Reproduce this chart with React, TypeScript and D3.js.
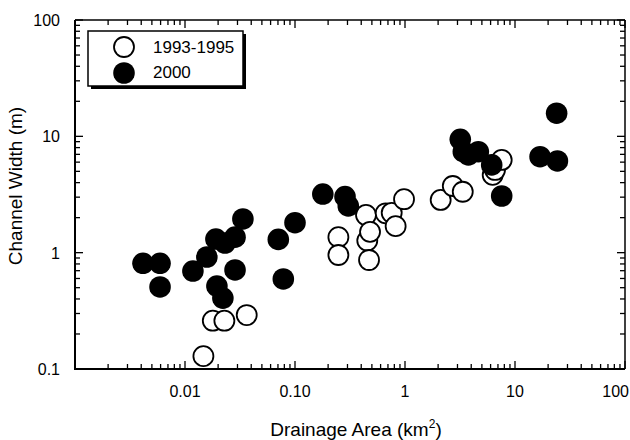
import React from "react";
import * as d3 from "d3";

const openArea = [0.0147, 0.0179, 0.0228, 0.0364, 0.248, 0.248, 0.442, 0.454, 0.471, 0.481, 0.668, 0.757, 0.822, 0.98, 2.11, 2.72, 3.35, 6.27, 6.58, 7.57];
const openWidth = [0.129, 0.26, 0.26, 0.291, 1.36, 0.955, 2.11, 1.27, 0.865, 1.51, 2.18, 2.2, 1.69, 2.88, 2.84, 3.74, 3.34, 4.66, 5.14, 6.27];

const filledArea = [0.00415, 0.00593, 0.00593, 0.0118, 0.0158, 0.0191, 0.0195, 0.0221, 0.0231, 0.0285, 0.0285, 0.0336, 0.0705, 0.0783, 0.1, 0.179, 0.285, 0.305, 3.18, 3.39, 3.77, 4.64, 6.14, 7.57, 16.9, 23.9, 24.3];
const filledWidth = [0.81, 0.81, 0.507, 0.695, 0.918, 1.31, 0.516, 0.407, 1.21, 1.36, 0.71, 1.95, 1.3, 0.594, 1.81, 3.19, 3.03, 2.52, 9.42, 7.38, 6.92, 7.38, 5.68, 3.07, 6.68, 15.8, 6.14];

const xTickValues = [0.01, 0.1, 1, 10, 100];
const xTickLabels = ["0.01", "0.10", "1", "10", "100"];
const yTickValues = [0.1, 1, 10, 100];
const yTickLabels = ["0.1", "1", "10", "100"];

const seriesNames = ["1993-1995", "2000"];

const W = 630;
const H = 440;
const left = 75, right = 625, top = 20, bottom = 369;
const FONT = "'Liberation Sans', Arial, Helvetica, sans-serif";

export default function App() {
  const x = d3.scaleLog().domain([0.001, 100]).range([left, right]);
  const y = d3.scaleLog().domain([0.1, 100]).range([bottom, top]);
  const isMajor = (v: number) => Math.abs(Math.log10(v) - Math.round(Math.log10(v))) < 1e-9;
  const xt = x.ticks();
  const yt = y.ticks();
  const r = 10;
  const major = 8, minor = 5;

  return (
    <svg width={W} height={H} style={{ position: "absolute", left: 0, top: 0, background: "#fff" }} fontFamily={FONT}>
      <rect x={0} y={0} width={W} height={H} fill="#fff" />
      {/* frame */}
      <line x1={left} x2={right} y1={top} y2={top} stroke="#000" strokeWidth={1.5} />
      <line x1={right} x2={right} y1={top} y2={bottom} stroke="#000" strokeWidth={1.5} />
      <line x1={left} x2={left} y1={top} y2={bottom + 1} stroke="#000" strokeWidth={2} />
      <line x1={left - 1} x2={right} y1={bottom} y2={bottom} stroke="#000" strokeWidth={2} />
      {/* x ticks */}
      {xt.map((v, i) => {
        const len = isMajor(v) ? major : minor;
        const px = x(v);
        return (
          <g key={"xt" + i}>
            <line x1={px} x2={px} y1={bottom} y2={bottom - len} stroke="#000" strokeWidth={1.3} />
            <line x1={px} x2={px} y1={top} y2={top + len} stroke="#000" strokeWidth={1.3} />
          </g>
        );
      })}
      {yt.map((v, i) => {
        const len = isMajor(v) ? major : minor;
        const py = y(v);
        return (
          <g key={"yt" + i}>
            <line x1={left} x2={left + len} y1={py} y2={py} stroke="#000" strokeWidth={1.3} />
            <line x1={right} x2={right - len} y1={py} y2={py} stroke="#000" strokeWidth={1.3} />
          </g>
        );
      })}
      {/* tick labels */}
      {xTickValues.map((v, i) => {
        const last = i === xTickValues.length - 1;
        return (
          <text key={"xl" + i} x={last ? W - 1 : x(v)} y={397} textAnchor={last ? "end" : "middle"} fontSize={16} fill="#000">
            {xTickLabels[i]}
          </text>
        );
      })}
      {yTickValues.map((v, i) => (
        <text key={"yl" + i} x={60} y={y(v) + 6} textAnchor="end" fontSize={16} fill="#000">
          {yTickLabels[i]}
        </text>
      ))}
      {/* axis titles */}
      <text x={356} y={436} textAnchor="middle" fontSize={19} fill="#000">
        Drainage Area (km<tspan fontSize={12} dy={-8}>2</tspan><tspan dy={8}>)</tspan>
      </text>
      <text transform="translate(22,186) rotate(-90)" textAnchor="middle" fontSize={19} fill="#000">
        Channel Width (m)
      </text>
      {/* points */}
      {openArea.map((a, i) => (
        <circle key={"o" + i} cx={x(a)} cy={y(openWidth[i])} r={r} fill="#fff" stroke="#000" strokeWidth={1.8} />
      ))}
      {filledArea.map((a, i) => (
        <circle key={"f" + i} cx={x(a)} cy={y(filledWidth[i])} r={r + 0.8} fill="#000" />
      ))}
      {/* legend */}
      <rect x={91} y={34} width={155} height={55} fill="#000" />
      <rect x={88} y={31} width={155} height={55} fill="#fff" stroke="#000" strokeWidth={1.5} />
      <circle cx={124} cy={47} r={r} fill="#fff" stroke="#000" strokeWidth={1.8} />
      <circle cx={124} cy={73} r={r + 0.8} fill="#000" />
      <text x={153} y={53} fontSize={17} fill="#000">{seriesNames[0]}</text>
      <text x={153} y={78} fontSize={17} fill="#000">{seriesNames[1]}</text>
    </svg>
  );
}
